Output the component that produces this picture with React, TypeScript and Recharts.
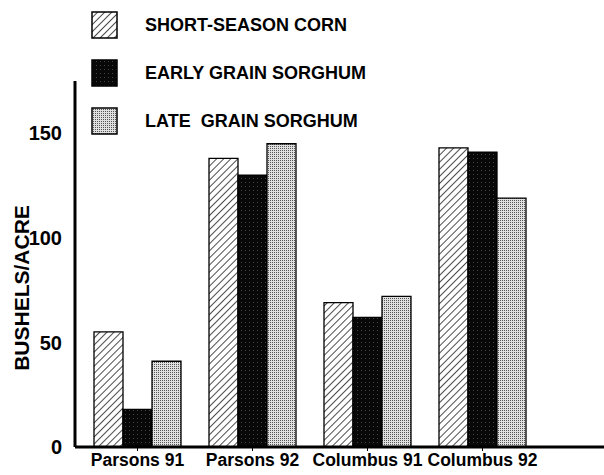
import React from 'react';
import { BarChart, Bar, XAxis, YAxis } from 'recharts';

const sites = ['Parsons 91', 'Parsons 92', 'Columbus 91', 'Columbus 92'];
const shortSeasonCorn = [55, 138, 69, 143];
const earlyGrainSorghum = [18, 130, 62, 141];
const lateGrainSorghum = [41, 145, 72, 119];
const yTicks = [0, 50, 100, 150];

const series = [
  { key: 'corn', name: 'SHORT-SEASON CORN', fill: 'url(#hatch)' },
  { key: 'early', name: 'EARLY GRAIN SORGHUM', fill: 'url(#dark)' },
  { key: 'late', name: 'LATE  GRAIN SORGHUM', fill: 'url(#stipple)' },
];

const data = sites.map((site, i) => ({
  site,
  corn: shortSeasonCorn[i],
  early: earlyGrainSorghum[i],
  late: lateGrainSorghum[i],
}));

const font = '"Liberation Sans", Arial, sans-serif';

const LegendBox = () => (
  <div style={{ position: 'absolute', left: 91, top: 1, fontFamily: font }}>
    {series.map((s) => (
      <div key={s.key} style={{ display: 'flex', alignItems: 'center', height: 48 }}>
        <svg width={28} height={28} style={{ marginRight: 26 }}>
          <rect x={1} y={1} width={25} height={26} fill={s.fill} stroke="#000" strokeWidth={1.5} />
        </svg>
        <span style={{ fontSize: 18, fontWeight: 700, color: '#000', whiteSpace: 'pre' }}>{s.name}</span>
      </div>
    ))}
  </div>
);

const YLabel = () => (
  <text
    x={29}
    y={288}
    transform="rotate(-90 29 288)"
    textAnchor="middle"
    fontFamily={font}
    fontWeight={700}
    fontSize={21}
    fill="#000"
  >
    BUSHELS/ACRE
  </text>
);

export default function App() {
  return (
    <div style={{ position: 'absolute', left: 0, top: 0, width: 604, height: 475, background: '#fff' }}>
      <BarChart
        width={604}
        height={475}
        data={data}
        margin={{ top: 81, right: 0, left: 0, bottom: 0 }}
        barCategoryGap={14}
        barGap={0}
      >
        <defs>
          <pattern id="hatch" width={5} height={5} patternUnits="userSpaceOnUse" patternTransform="rotate(45)">
            <rect width={5} height={5} fill="#fff" />
            <line x1={0} y1={0} x2={0} y2={5} stroke="#000" strokeWidth={1.4} />
          </pattern>
          <pattern id="dark" width={4} height={4} patternUnits="userSpaceOnUse">
            <rect width={4} height={4} fill="#080808" />
            <rect x={1} y={2} width={1} height={1} fill="#444" />
          </pattern>
          <pattern id="stipple" width={2} height={2} patternUnits="userSpaceOnUse">
            <rect width={2} height={2} fill="#e0e0e0" />
            <rect x={0} y={0} width={1} height={1} fill="#555" />
          </pattern>
        </defs>
        <XAxis
          dataKey="site"
          height={28}
          padding={{ left: 5, right: 64 }}
          axisLine={{ stroke: '#000', strokeWidth: 3 }}
          tickLine={{ stroke: '#000' }}
          tickSize={4}
          tickMargin={3}
          tick={{ fill: '#000', fontSize: 17.5, fontWeight: 700, fontFamily: font }}
          interval={0}
        />
        <YAxis
          width={75}
          domain={[0, 175]}
          ticks={yTicks}
          axisLine={{ stroke: '#000', strokeWidth: 3 }}
          tickLine={false}
          tickMargin={7}
          tick={{ fill: '#000', fontSize: 20, fontWeight: 700, fontFamily: font }}
        />
        {series.map((s) => (
          <Bar
            key={s.key}
            dataKey={s.key}
            name={s.name}
            fill={s.fill}
            stroke="#000"
            strokeWidth={1.3}
            isAnimationActive={false}
          />
        ))}
        <YLabel />
      </BarChart>
      <LegendBox />
    </div>
  );
}
